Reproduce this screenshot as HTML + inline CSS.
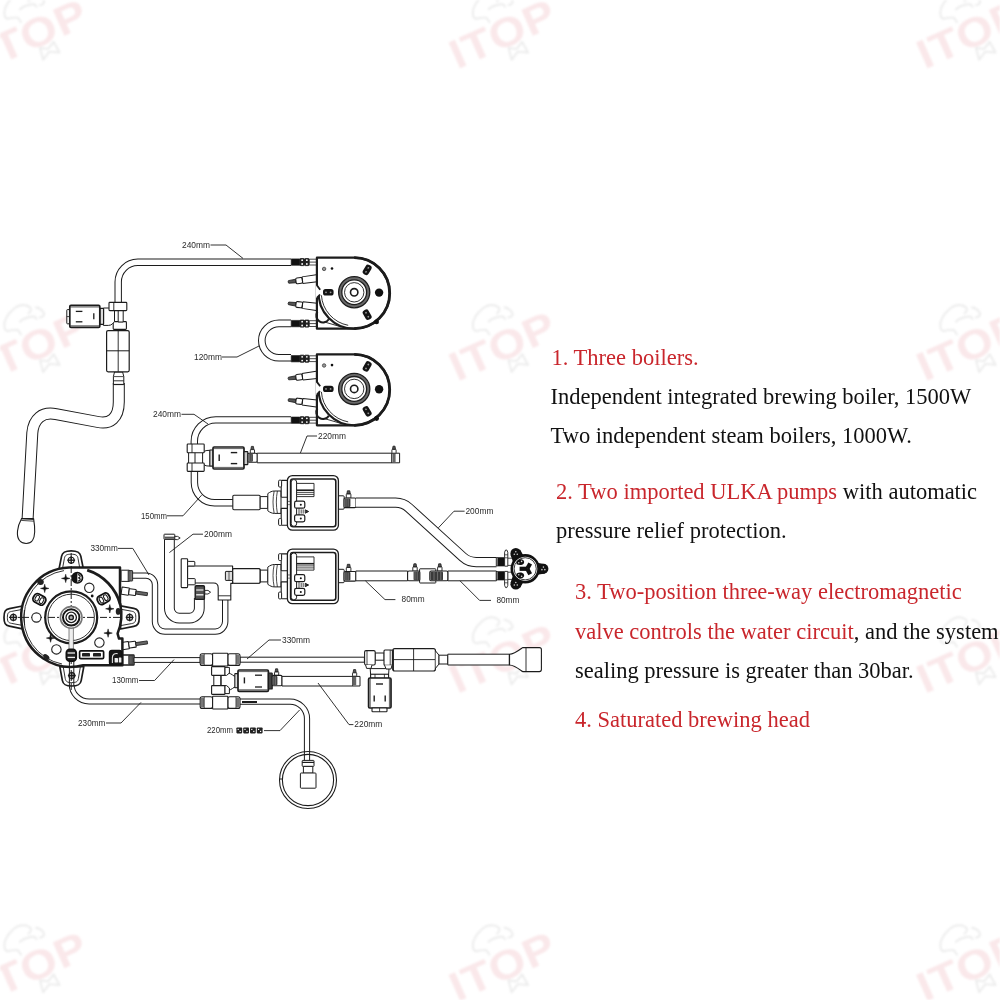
<!DOCTYPE html>
<html><head><meta charset="utf-8"><title>Coffee machine water circuit</title>
<style>
html,body{margin:0;padding:0;background:#fff;}
body{width:1000px;height:1000px;position:relative;overflow:hidden;font-family:"Liberation Serif",serif;}
svg{position:absolute;left:0;top:0;}
#dg{filter:blur(0.35px);}
#wm{filter:blur(0.8px);}
#tx{position:absolute;left:0;top:0;width:1000px;height:1000px;filter:blur(0.3px);}
.lb{font-family:"Liberation Sans",sans-serif;font-size:9px;fill:#2a2a2a;}
.t{position:absolute;white-space:nowrap;font-family:"Liberation Serif",serif;font-size:22.5px;line-height:26px;color:#111;}
.r{color:#c9262c;}
</style></head><body>
<svg id="wm" width="1000" height="1000" viewBox="0 0 1000 1000">
<g transform="translate(39,31) rotate(-24)">
<text transform="scale(1.15,1)" x="-53.5" y="14.7" font-family="Liberation Sans, sans-serif" font-weight="bold" font-size="41" letter-spacing="0.57" fill="#fae8ea">ITOP</text>
<g fill="none" stroke="#ececec" stroke-width="1.9" stroke-linecap="round" stroke-linejoin="round">
<path d="M-12.9,-15.4 L-13.8,-20.7 C-17,-22.4 -20,-23.4 -23.3,-23.8 C-25.6,-25 -25.8,-27.6 -24.5,-29.8 C-23.6,-33 -21.6,-35.2 -19.2,-36.8 C-17,-38.6 -14.6,-39.8 -12,-40.7 C-9.4,-41.8 -6.6,-42.6 -4,-42.6 C-1,-42.4 2,-41.4 4,-39.6 C5.6,-38.2 6.8,-36.4 6.6,-34.6 C6,-33 4.4,-32 2.5,-31.5"/>
<path d="M11.8,-33.9 C14.2,-32.6 15.8,-30.4 16.3,-28.1 C16.8,-26.6 16.8,-25 16.1,-23.8 C14.8,-22.8 13,-22.8 11.4,-23.2"/>
<path d="M-8.500,-27.600 C-5.8,-28.6 -2.8,-28.6 0,-28.200 C2.400,-27.900 4.600,-27.400 6.300,-26.500 C7.400,-25.600 7.800,-24.400 7.600,-23.200"/>
<path d="M-6,16 L-8,28 L1,23 L10,28 L9,16 L1,20 Z"/>
</g></g>
<g transform="translate(507.5,31) rotate(-24)">
<text transform="scale(1.15,1)" x="-53.5" y="14.7" font-family="Liberation Sans, sans-serif" font-weight="bold" font-size="41" letter-spacing="0.57" fill="#fae8ea">ITOP</text>
<g fill="none" stroke="#ececec" stroke-width="1.9" stroke-linecap="round" stroke-linejoin="round">
<path d="M-12.9,-15.4 L-13.8,-20.7 C-17,-22.4 -20,-23.4 -23.3,-23.8 C-25.6,-25 -25.8,-27.6 -24.5,-29.8 C-23.6,-33 -21.6,-35.2 -19.2,-36.8 C-17,-38.6 -14.6,-39.8 -12,-40.7 C-9.4,-41.8 -6.6,-42.6 -4,-42.6 C-1,-42.4 2,-41.4 4,-39.6 C5.6,-38.2 6.8,-36.4 6.6,-34.6 C6,-33 4.4,-32 2.5,-31.5"/>
<path d="M11.8,-33.9 C14.2,-32.6 15.8,-30.4 16.3,-28.1 C16.8,-26.6 16.8,-25 16.1,-23.8 C14.8,-22.8 13,-22.8 11.4,-23.2"/>
<path d="M-8.500,-27.600 C-5.8,-28.6 -2.8,-28.6 0,-28.200 C2.400,-27.900 4.600,-27.400 6.300,-26.500 C7.400,-25.600 7.800,-24.400 7.600,-23.200"/>
<path d="M-6,16 L-8,28 L1,23 L10,28 L9,16 L1,20 Z"/>
</g></g>
<g transform="translate(975,31) rotate(-24)">
<text transform="scale(1.15,1)" x="-53.5" y="14.7" font-family="Liberation Sans, sans-serif" font-weight="bold" font-size="41" letter-spacing="0.57" fill="#fae8ea">ITOP</text>
<g fill="none" stroke="#ececec" stroke-width="1.9" stroke-linecap="round" stroke-linejoin="round">
<path d="M-12.9,-15.4 L-13.8,-20.7 C-17,-22.4 -20,-23.4 -23.3,-23.8 C-25.6,-25 -25.8,-27.6 -24.5,-29.8 C-23.6,-33 -21.6,-35.2 -19.2,-36.8 C-17,-38.6 -14.6,-39.8 -12,-40.7 C-9.4,-41.8 -6.6,-42.6 -4,-42.6 C-1,-42.4 2,-41.4 4,-39.6 C5.6,-38.2 6.8,-36.4 6.6,-34.6 C6,-33 4.4,-32 2.5,-31.5"/>
<path d="M11.8,-33.9 C14.2,-32.6 15.8,-30.4 16.3,-28.1 C16.8,-26.6 16.8,-25 16.1,-23.8 C14.8,-22.8 13,-22.8 11.4,-23.2"/>
<path d="M-8.500,-27.600 C-5.8,-28.6 -2.8,-28.6 0,-28.200 C2.400,-27.900 4.600,-27.400 6.300,-26.500 C7.400,-25.600 7.800,-24.400 7.600,-23.200"/>
<path d="M-6,16 L-8,28 L1,23 L10,28 L9,16 L1,20 Z"/>
</g></g>
<g transform="translate(39,343.3) rotate(-24)">
<text transform="scale(1.15,1)" x="-53.5" y="14.7" font-family="Liberation Sans, sans-serif" font-weight="bold" font-size="41" letter-spacing="0.57" fill="#fae8ea">ITOP</text>
<g fill="none" stroke="#ececec" stroke-width="1.9" stroke-linecap="round" stroke-linejoin="round">
<path d="M-12.9,-15.4 L-13.8,-20.7 C-17,-22.4 -20,-23.4 -23.3,-23.8 C-25.6,-25 -25.8,-27.6 -24.5,-29.8 C-23.6,-33 -21.6,-35.2 -19.2,-36.8 C-17,-38.6 -14.6,-39.8 -12,-40.7 C-9.4,-41.8 -6.6,-42.6 -4,-42.6 C-1,-42.4 2,-41.4 4,-39.6 C5.6,-38.2 6.8,-36.4 6.6,-34.6 C6,-33 4.4,-32 2.5,-31.5"/>
<path d="M11.8,-33.9 C14.2,-32.6 15.8,-30.4 16.3,-28.1 C16.8,-26.6 16.8,-25 16.1,-23.8 C14.8,-22.8 13,-22.8 11.4,-23.2"/>
<path d="M-8.500,-27.600 C-5.8,-28.6 -2.8,-28.6 0,-28.200 C2.400,-27.900 4.600,-27.400 6.300,-26.500 C7.400,-25.600 7.800,-24.400 7.600,-23.200"/>
<path d="M-6,16 L-8,28 L1,23 L10,28 L9,16 L1,20 Z"/>
</g></g>
<g transform="translate(507.5,343.3) rotate(-24)">
<text transform="scale(1.15,1)" x="-53.5" y="14.7" font-family="Liberation Sans, sans-serif" font-weight="bold" font-size="41" letter-spacing="0.57" fill="#fae8ea">ITOP</text>
<g fill="none" stroke="#ececec" stroke-width="1.9" stroke-linecap="round" stroke-linejoin="round">
<path d="M-12.9,-15.4 L-13.8,-20.7 C-17,-22.4 -20,-23.4 -23.3,-23.8 C-25.6,-25 -25.8,-27.6 -24.5,-29.8 C-23.6,-33 -21.6,-35.2 -19.2,-36.8 C-17,-38.6 -14.6,-39.8 -12,-40.7 C-9.4,-41.8 -6.6,-42.6 -4,-42.6 C-1,-42.4 2,-41.4 4,-39.6 C5.6,-38.2 6.8,-36.4 6.6,-34.6 C6,-33 4.4,-32 2.5,-31.5"/>
<path d="M11.8,-33.9 C14.2,-32.6 15.8,-30.4 16.3,-28.1 C16.8,-26.6 16.8,-25 16.1,-23.8 C14.8,-22.8 13,-22.8 11.4,-23.2"/>
<path d="M-8.500,-27.600 C-5.8,-28.6 -2.8,-28.6 0,-28.200 C2.400,-27.900 4.600,-27.400 6.300,-26.500 C7.400,-25.600 7.800,-24.400 7.600,-23.200"/>
<path d="M-6,16 L-8,28 L1,23 L10,28 L9,16 L1,20 Z"/>
</g></g>
<g transform="translate(975,343.3) rotate(-24)">
<text transform="scale(1.15,1)" x="-53.5" y="14.7" font-family="Liberation Sans, sans-serif" font-weight="bold" font-size="41" letter-spacing="0.57" fill="#fae8ea">ITOP</text>
<g fill="none" stroke="#ececec" stroke-width="1.9" stroke-linecap="round" stroke-linejoin="round">
<path d="M-12.9,-15.4 L-13.8,-20.7 C-17,-22.4 -20,-23.4 -23.3,-23.8 C-25.6,-25 -25.8,-27.6 -24.5,-29.8 C-23.6,-33 -21.6,-35.2 -19.2,-36.8 C-17,-38.6 -14.6,-39.8 -12,-40.7 C-9.4,-41.8 -6.6,-42.6 -4,-42.6 C-1,-42.4 2,-41.4 4,-39.6 C5.6,-38.2 6.8,-36.4 6.6,-34.6 C6,-33 4.4,-32 2.5,-31.5"/>
<path d="M11.8,-33.9 C14.2,-32.6 15.8,-30.4 16.3,-28.1 C16.8,-26.6 16.8,-25 16.1,-23.8 C14.8,-22.8 13,-22.8 11.4,-23.2"/>
<path d="M-8.500,-27.600 C-5.8,-28.6 -2.8,-28.6 0,-28.200 C2.400,-27.900 4.600,-27.400 6.300,-26.500 C7.400,-25.600 7.800,-24.400 7.600,-23.200"/>
<path d="M-6,16 L-8,28 L1,23 L10,28 L9,16 L1,20 Z"/>
</g></g>
<g transform="translate(39,655.6) rotate(-24)">
<text transform="scale(1.15,1)" x="-53.5" y="14.7" font-family="Liberation Sans, sans-serif" font-weight="bold" font-size="41" letter-spacing="0.57" fill="#fae8ea">ITOP</text>
<g fill="none" stroke="#ececec" stroke-width="1.9" stroke-linecap="round" stroke-linejoin="round">
<path d="M-12.9,-15.4 L-13.8,-20.7 C-17,-22.4 -20,-23.4 -23.3,-23.8 C-25.6,-25 -25.8,-27.6 -24.5,-29.8 C-23.6,-33 -21.6,-35.2 -19.2,-36.8 C-17,-38.6 -14.6,-39.8 -12,-40.7 C-9.4,-41.8 -6.6,-42.6 -4,-42.6 C-1,-42.4 2,-41.4 4,-39.6 C5.6,-38.2 6.8,-36.4 6.6,-34.6 C6,-33 4.4,-32 2.5,-31.5"/>
<path d="M11.8,-33.9 C14.2,-32.6 15.8,-30.4 16.3,-28.1 C16.8,-26.6 16.8,-25 16.1,-23.8 C14.8,-22.8 13,-22.8 11.4,-23.2"/>
<path d="M-8.500,-27.600 C-5.8,-28.6 -2.8,-28.6 0,-28.200 C2.400,-27.900 4.600,-27.400 6.300,-26.500 C7.400,-25.600 7.800,-24.400 7.600,-23.200"/>
<path d="M-6,16 L-8,28 L1,23 L10,28 L9,16 L1,20 Z"/>
</g></g>
<g transform="translate(507.5,655.6) rotate(-24)">
<text transform="scale(1.15,1)" x="-53.5" y="14.7" font-family="Liberation Sans, sans-serif" font-weight="bold" font-size="41" letter-spacing="0.57" fill="#fae8ea">ITOP</text>
<g fill="none" stroke="#ececec" stroke-width="1.9" stroke-linecap="round" stroke-linejoin="round">
<path d="M-12.9,-15.4 L-13.8,-20.7 C-17,-22.4 -20,-23.4 -23.3,-23.8 C-25.6,-25 -25.8,-27.6 -24.5,-29.8 C-23.6,-33 -21.6,-35.2 -19.2,-36.8 C-17,-38.6 -14.6,-39.8 -12,-40.7 C-9.4,-41.8 -6.6,-42.6 -4,-42.6 C-1,-42.4 2,-41.4 4,-39.6 C5.6,-38.2 6.8,-36.4 6.6,-34.6 C6,-33 4.4,-32 2.5,-31.5"/>
<path d="M11.8,-33.9 C14.2,-32.6 15.8,-30.4 16.3,-28.1 C16.8,-26.6 16.8,-25 16.1,-23.8 C14.8,-22.8 13,-22.8 11.4,-23.2"/>
<path d="M-8.500,-27.600 C-5.8,-28.6 -2.8,-28.6 0,-28.200 C2.400,-27.900 4.600,-27.400 6.300,-26.500 C7.400,-25.600 7.800,-24.400 7.600,-23.200"/>
<path d="M-6,16 L-8,28 L1,23 L10,28 L9,16 L1,20 Z"/>
</g></g>
<g transform="translate(975,655.6) rotate(-24)">
<text transform="scale(1.15,1)" x="-53.5" y="14.7" font-family="Liberation Sans, sans-serif" font-weight="bold" font-size="41" letter-spacing="0.57" fill="#fae8ea">ITOP</text>
<g fill="none" stroke="#ececec" stroke-width="1.9" stroke-linecap="round" stroke-linejoin="round">
<path d="M-12.9,-15.4 L-13.8,-20.7 C-17,-22.4 -20,-23.4 -23.3,-23.8 C-25.6,-25 -25.8,-27.6 -24.5,-29.8 C-23.6,-33 -21.6,-35.2 -19.2,-36.8 C-17,-38.6 -14.6,-39.8 -12,-40.7 C-9.4,-41.8 -6.6,-42.6 -4,-42.6 C-1,-42.4 2,-41.4 4,-39.6 C5.6,-38.2 6.8,-36.4 6.6,-34.6 C6,-33 4.4,-32 2.5,-31.5"/>
<path d="M11.8,-33.9 C14.2,-32.6 15.8,-30.4 16.3,-28.1 C16.8,-26.6 16.8,-25 16.1,-23.8 C14.8,-22.8 13,-22.8 11.4,-23.2"/>
<path d="M-8.500,-27.600 C-5.8,-28.6 -2.8,-28.6 0,-28.200 C2.400,-27.900 4.600,-27.400 6.300,-26.500 C7.400,-25.600 7.800,-24.400 7.600,-23.200"/>
<path d="M-6,16 L-8,28 L1,23 L10,28 L9,16 L1,20 Z"/>
</g></g>
<g transform="translate(39,963.5) rotate(-24)">
<text transform="scale(1.15,1)" x="-53.5" y="14.7" font-family="Liberation Sans, sans-serif" font-weight="bold" font-size="41" letter-spacing="0.57" fill="#fae8ea">ITOP</text>
<g fill="none" stroke="#ececec" stroke-width="1.9" stroke-linecap="round" stroke-linejoin="round">
<path d="M-12.9,-15.4 L-13.8,-20.7 C-17,-22.4 -20,-23.4 -23.3,-23.8 C-25.6,-25 -25.8,-27.6 -24.5,-29.8 C-23.6,-33 -21.6,-35.2 -19.2,-36.8 C-17,-38.6 -14.6,-39.8 -12,-40.7 C-9.4,-41.8 -6.6,-42.6 -4,-42.6 C-1,-42.4 2,-41.4 4,-39.6 C5.6,-38.2 6.8,-36.4 6.6,-34.6 C6,-33 4.4,-32 2.5,-31.5"/>
<path d="M11.8,-33.9 C14.2,-32.6 15.8,-30.4 16.3,-28.1 C16.8,-26.6 16.8,-25 16.1,-23.8 C14.8,-22.8 13,-22.8 11.4,-23.2"/>
<path d="M-8.500,-27.600 C-5.8,-28.6 -2.8,-28.6 0,-28.200 C2.400,-27.900 4.600,-27.400 6.300,-26.500 C7.400,-25.600 7.800,-24.400 7.600,-23.200"/>
<path d="M-6,16 L-8,28 L1,23 L10,28 L9,16 L1,20 Z"/>
</g></g>
<g transform="translate(507.5,963.5) rotate(-24)">
<text transform="scale(1.15,1)" x="-53.5" y="14.7" font-family="Liberation Sans, sans-serif" font-weight="bold" font-size="41" letter-spacing="0.57" fill="#fae8ea">ITOP</text>
<g fill="none" stroke="#ececec" stroke-width="1.9" stroke-linecap="round" stroke-linejoin="round">
<path d="M-12.9,-15.4 L-13.8,-20.7 C-17,-22.4 -20,-23.4 -23.3,-23.8 C-25.6,-25 -25.8,-27.6 -24.5,-29.8 C-23.6,-33 -21.6,-35.2 -19.2,-36.8 C-17,-38.6 -14.6,-39.8 -12,-40.7 C-9.4,-41.8 -6.6,-42.6 -4,-42.6 C-1,-42.4 2,-41.4 4,-39.6 C5.6,-38.2 6.8,-36.4 6.6,-34.6 C6,-33 4.4,-32 2.5,-31.5"/>
<path d="M11.8,-33.9 C14.2,-32.6 15.8,-30.4 16.3,-28.1 C16.8,-26.6 16.8,-25 16.1,-23.8 C14.8,-22.8 13,-22.8 11.4,-23.2"/>
<path d="M-8.500,-27.600 C-5.8,-28.6 -2.8,-28.6 0,-28.200 C2.400,-27.900 4.600,-27.400 6.300,-26.500 C7.400,-25.600 7.800,-24.400 7.600,-23.200"/>
<path d="M-6,16 L-8,28 L1,23 L10,28 L9,16 L1,20 Z"/>
</g></g>
<g transform="translate(975,963.5) rotate(-24)">
<text transform="scale(1.15,1)" x="-53.5" y="14.7" font-family="Liberation Sans, sans-serif" font-weight="bold" font-size="41" letter-spacing="0.57" fill="#fae8ea">ITOP</text>
<g fill="none" stroke="#ececec" stroke-width="1.9" stroke-linecap="round" stroke-linejoin="round">
<path d="M-12.9,-15.4 L-13.8,-20.7 C-17,-22.4 -20,-23.4 -23.3,-23.8 C-25.6,-25 -25.8,-27.6 -24.5,-29.8 C-23.6,-33 -21.6,-35.2 -19.2,-36.8 C-17,-38.6 -14.6,-39.8 -12,-40.7 C-9.4,-41.8 -6.6,-42.6 -4,-42.6 C-1,-42.4 2,-41.4 4,-39.6 C5.6,-38.2 6.8,-36.4 6.6,-34.6 C6,-33 4.4,-32 2.5,-31.5"/>
<path d="M11.8,-33.9 C14.2,-32.6 15.8,-30.4 16.3,-28.1 C16.8,-26.6 16.8,-25 16.1,-23.8 C14.8,-22.8 13,-22.8 11.4,-23.2"/>
<path d="M-8.500,-27.600 C-5.8,-28.6 -2.8,-28.6 0,-28.200 C2.400,-27.900 4.600,-27.400 6.300,-26.500 C7.400,-25.600 7.800,-24.400 7.600,-23.200"/>
<path d="M-6,16 L-8,28 L1,23 L10,28 L9,16 L1,20 Z"/>
</g></g>
</svg>
<svg id="dg" width="1000" height="1000" viewBox="0 0 1000 1000" stroke-linecap="butt" stroke-linejoin="round">
<path d="M291,262.3 H137.8 A19.6,19.6 0 0 0 118.2,281.9 V304" fill="none" stroke="#1c1c1c" stroke-width="7.4" />
<path d="M291,262.3 H137.8 A19.6,19.6 0 0 0 118.2,281.9 V304" fill="none" stroke="#fff" stroke-width="5.4" />
<text x="182.0" y="247.8" textLength="28" lengthAdjust="spacingAndGlyphs" class="lb">240mm</text>
<polyline points="210.5,245.0 226.0,245.0 243.0,258.4" fill="none" stroke="#1c1c1c" stroke-width="0.9"/>
<path d="M291,323.4 H279 A17.2,17.2 0 0 0 279,357.8 H291" fill="none" stroke="#1c1c1c" stroke-width="7.6" />
<path d="M291,323.4 H279 A17.2,17.2 0 0 0 279,357.8 H291" fill="none" stroke="#fff" stroke-width="5.6" />
<text x="194.0" y="359.8" textLength="28" lengthAdjust="spacingAndGlyphs" class="lb">120mm</text>
<polyline points="222.0,357.0 237.0,357.0 259.0,346.0" fill="none" stroke="#1c1c1c" stroke-width="0.9"/>
<path d="M291,419.9 H215.8 A21.5,21.5 0 0 0 194.3,441.4 V446" fill="none" stroke="#1c1c1c" stroke-width="7.4" />
<path d="M291,419.9 H215.8 A21.5,21.5 0 0 0 194.3,441.4 V446" fill="none" stroke="#fff" stroke-width="5.4" />
<text x="153.0" y="417.1" textLength="28" lengthAdjust="spacingAndGlyphs" class="lb">240mm</text>
<polyline points="181.5,414.3 194.0,414.3 208.0,424.0" fill="none" stroke="#1c1c1c" stroke-width="0.9"/>
<path d="M118.8,383 V402 C118.8,418 110,424.5 98,422 L56,414.2 C42,411.4 33.4,419 32.3,433 L27.6,519" fill="none" stroke="#1c1c1c" stroke-width="12" />
<path d="M118.8,383 V402 C118.8,418 110,424.5 98,422 L56,414.2 C42,411.4 33.4,419 32.3,433 L27.6,519" fill="none" stroke="#fff" stroke-width="10.0" />
<path d="M21.6,518.6 C17,527 16,536 19.5,540.5 C23,544.5 29.5,544.5 32.5,540.5 C35.6,536 35,527 33.6,518.6 Z" fill="#fff" stroke="#1c1c1c" stroke-width="1.1" />
<line x1="21.40" y1="518.60" x2="33.80" y2="519.40" stroke="#1c1c1c" stroke-width="1.0" />
<line x1="21.20" y1="520.40" x2="33.80" y2="521.20" stroke="#1c1c1c" stroke-width="0.8" />
<path d="M113.4,384.6 V376.5 L114.5,372 H122.6 L123.8,376.5 V384.6 Z" fill="#fff" stroke="#1c1c1c" stroke-width="1.0" />
<line x1="113.40" y1="380.80" x2="123.80" y2="380.80" stroke="#1c1c1c" stroke-width="0.9" />
<line x1="113.40" y1="384.40" x2="123.80" y2="384.40" stroke="#1c1c1c" stroke-width="0.9" />
<line x1="113.60" y1="376.60" x2="123.60" y2="376.60" stroke="#1c1c1c" stroke-width="0.8" />
<rect x="106.60" y="330.60" width="22.60" height="41.20" rx="1.5" fill="#fff" stroke="#1c1c1c" stroke-width="1.2"/>
<line x1="106.60" y1="350.80" x2="129.20" y2="350.80" stroke="#1c1c1c" stroke-width="1.0" />
<line x1="118.20" y1="330.60" x2="118.20" y2="371.80" stroke="#1c1c1c" stroke-width="0.9" />
<rect x="113.20" y="321.60" width="13.20" height="7.80" rx="0.8" fill="#fff" stroke="#1c1c1c" stroke-width="1.1"/>
<rect x="118.20" y="310.00" width="5.00" height="12.00" rx="0" fill="#fff" stroke="#1c1c1c" stroke-width="1.0"/>
<path d="M103.4,308 H108.5 C112,308 113,310 114.5,311 V321.4 C113,323 112,325.4 108.5,325.4 H103.4 Z" fill="#fff" stroke="#1c1c1c" stroke-width="1.0" />
<rect x="109.00" y="302.40" width="17.80" height="8.20" rx="0.8" fill="#fff" stroke="#1c1c1c" stroke-width="1.1"/>
<line x1="113.80" y1="302.40" x2="113.80" y2="310.60" stroke="#1c1c1c" stroke-width="0.9" />
<rect x="66.80" y="309.60" width="3.40" height="14.20" rx="0.6" fill="#fff" stroke="#1c1c1c" stroke-width="1.0"/>
<line x1="66.80" y1="316.60" x2="70.00" y2="316.60" stroke="#1c1c1c" stroke-width="0.8" />
<rect x="99.80" y="308.40" width="3.80" height="16.00" rx="0.6" fill="#ddd" stroke="#1c1c1c" stroke-width="1.2"/>
<rect x="69.80" y="305.40" width="30.00" height="22.00" rx="1.2" fill="#fff" stroke="#1c1c1c" stroke-width="1.7"/>
<line x1="70.30" y1="307.00" x2="99.30" y2="307.00" stroke="#1c1c1c" stroke-width="0.7" />
<line x1="70.30" y1="325.80" x2="99.30" y2="325.80" stroke="#1c1c1c" stroke-width="0.7" />
<line x1="75.80" y1="311.40" x2="82.40" y2="311.40" stroke="#1c1c1c" stroke-width="1.3" />
<line x1="75.80" y1="321.80" x2="82.40" y2="321.80" stroke="#1c1c1c" stroke-width="1.3" />
<line x1="93.80" y1="313.20" x2="93.80" y2="319.20" stroke="#1c1c1c" stroke-width="1.3" />
<g transform="translate(354.2,292.3)">
</g>
<rect x="291.20" y="258.90" width="8.60" height="6.40" rx="0" fill="#111" stroke="#1c1c1c" stroke-width="0.6"/>
<rect x="299.80" y="258.60" width="4.70" height="7.00" rx="1" fill="#222" stroke="#1c1c1c" stroke-width="0.9"/>
<circle cx="302.15" cy="260.20" r="0.90" fill="#fff" stroke="none" stroke-width="0"/>
<circle cx="302.15" cy="264.00" r="0.90" fill="#fff" stroke="none" stroke-width="0"/>
<rect x="304.50" y="258.60" width="4.70" height="7.00" rx="1" fill="#222" stroke="#1c1c1c" stroke-width="0.9"/>
<circle cx="306.85" cy="260.20" r="0.90" fill="#fff" stroke="none" stroke-width="0"/>
<circle cx="306.85" cy="264.00" r="0.90" fill="#fff" stroke="none" stroke-width="0"/>
<line x1="309.20" y1="259.20" x2="316.60" y2="259.20" stroke="#1c1c1c" stroke-width="0.8" />
<line x1="309.20" y1="262.10" x2="316.60" y2="262.10" stroke="#1c1c1c" stroke-width="0.8" />
<line x1="309.20" y1="265.00" x2="316.60" y2="265.00" stroke="#1c1c1c" stroke-width="0.8" />
<rect x="291.20" y="320.40" width="8.60" height="6.40" rx="0" fill="#111" stroke="#1c1c1c" stroke-width="0.6"/>
<rect x="299.80" y="320.10" width="4.70" height="7.00" rx="1" fill="#222" stroke="#1c1c1c" stroke-width="0.9"/>
<circle cx="302.15" cy="321.70" r="0.90" fill="#fff" stroke="none" stroke-width="0"/>
<circle cx="302.15" cy="325.50" r="0.90" fill="#fff" stroke="none" stroke-width="0"/>
<rect x="304.50" y="320.10" width="4.70" height="7.00" rx="1" fill="#222" stroke="#1c1c1c" stroke-width="0.9"/>
<circle cx="306.85" cy="321.70" r="0.90" fill="#fff" stroke="none" stroke-width="0"/>
<circle cx="306.85" cy="325.50" r="0.90" fill="#fff" stroke="none" stroke-width="0"/>
<line x1="309.20" y1="320.70" x2="316.60" y2="320.70" stroke="#1c1c1c" stroke-width="0.8" />
<line x1="309.20" y1="323.60" x2="316.60" y2="323.60" stroke="#1c1c1c" stroke-width="0.8" />
<line x1="309.20" y1="326.50" x2="316.60" y2="326.50" stroke="#1c1c1c" stroke-width="0.8" />
<g transform="translate(288.00,282.00) rotate(-7.35)">
<path d="M0.6,-1.3 L8,-1.8 L8,1.8 L0.6,1.3 Q-0.4,0 0.6,-1.3 Z" fill="#555" stroke="#1c1c1c" stroke-width="0.8"/>
<rect x="8" y="-2.9" width="6.5" height="5.8" rx="1.3" fill="#fff" stroke="#1c1c1c" stroke-width="1.1"/>
<path d="M14.5,-3.3 L28.94,-3.6 M14.5,3.3 L28.94,3.6 M14.5,-3.3 V3.3" fill="none" stroke="#1c1c1c" stroke-width="1"/>
</g>
<g transform="translate(288.00,303.30) rotate(7.15)">
<path d="M0.6,-1.3 L8,-1.8 L8,1.8 L0.6,1.3 Q-0.4,0 0.6,-1.3 Z" fill="#555" stroke="#1c1c1c" stroke-width="0.8"/>
<rect x="8" y="-2.9" width="6.5" height="5.8" rx="1.3" fill="#fff" stroke="#1c1c1c" stroke-width="1.1"/>
<path d="M14.5,-3.3 L28.92,-3.6 M14.5,3.3 L28.92,3.6 M14.5,-3.3 V3.3" fill="none" stroke="#1c1c1c" stroke-width="1"/>
</g>
<g transform="translate(354.2,292.3)">
<path d="M-37.3,-34.6 H0 A35.5,35.5 0 0 1 0,36.4 H-37.3 Z" fill="#fff" stroke="#1c1c1c" stroke-width="2.2" />
<path d="M-35.4,-2 A35.5,35.5 0 0 0 2,36.3" fill="none" stroke="#1c1c1c" stroke-width="2.2" />
<path d="M-32.8,3 A33,33 0 0 0 -6,33" fill="none" stroke="#1c1c1c" stroke-width="0.9" />
<path d="M0,-34.6 A35.5,35.5 0 0 1 0,36.4" fill="none" stroke="#1c1c1c" stroke-width="2.8" />
<path d="M-38.3,-7 L-33.6,-2.2 L-33.6,2 L-38.3,6 Z" fill="#fff" stroke="none" stroke-width="0" />
<path d="M-37.3,-7 L-34,-2.6 M-34.2,2.2 L-37.3,5.6" fill="none" stroke="#1c1c1c" stroke-width="1.8" />
<path d="M-36.8,19.6 A6,6 0 1 0 -25.4,27" fill="none" stroke="#1c1c1c" stroke-width="2.0" />
<path d="M-30,29.6 L-13,34.6" fill="none" stroke="#1c1c1c" stroke-width="0.9" />
<circle cx="0.00" cy="0.00" r="14.00" fill="#fff" stroke="#6a6a6a" stroke-width="3.0"/>
<circle cx="0.00" cy="0.00" r="15.60" fill="none" stroke="#1c1c1c" stroke-width="1.3"/>
<circle cx="0.00" cy="0.00" r="12.40" fill="none" stroke="#1c1c1c" stroke-width="1.3"/>
<circle cx="0.00" cy="0.00" r="9.70" fill="none" stroke="#1c1c1c" stroke-width="0.9"/>
<circle cx="0.00" cy="0.00" r="3.70" fill="#fff" stroke="#1c1c1c" stroke-width="1.6"/>
<circle cx="24.90" cy="0.30" r="4.20" fill="#111" stroke="none" stroke-width="0"/>
<circle cx="22.40" cy="29.60" r="2.40" fill="#111" stroke="none" stroke-width="0"/>
<g transform="rotate(180) translate(25.9,0)">
<rect x="-5.30" y="-3.20" width="10.60" height="6.40" rx="2.6" fill="#141414" stroke="none" stroke-width="0"/>
<circle cx="-2.30" cy="0.00" r="0.90" fill="#999" stroke="none" stroke-width="0"/>
<circle cx="2.30" cy="0.00" r="0.90" fill="#999" stroke="none" stroke-width="0"/>
</g>
<g transform="rotate(-60) translate(25.9,0)">
<rect x="-5.30" y="-3.20" width="10.60" height="6.40" rx="2.6" fill="#141414" stroke="none" stroke-width="0"/>
<circle cx="-2.30" cy="0.00" r="0.90" fill="#999" stroke="none" stroke-width="0"/>
<circle cx="2.30" cy="0.00" r="0.90" fill="#999" stroke="none" stroke-width="0"/>
</g>
<g transform="rotate(60) translate(25.9,0)">
<rect x="-5.30" y="-3.20" width="10.60" height="6.40" rx="2.6" fill="#141414" stroke="none" stroke-width="0"/>
<circle cx="-2.30" cy="0.00" r="0.90" fill="#999" stroke="none" stroke-width="0"/>
<circle cx="2.30" cy="0.00" r="0.90" fill="#999" stroke="none" stroke-width="0"/>
</g>
<circle cx="-30.10" cy="-23.40" r="1.70" fill="#999" stroke="#555" stroke-width="1.0"/>
<circle cx="-22.20" cy="-23.80" r="1.30" fill="#111" stroke="none" stroke-width="0"/>
</g>
<g transform="translate(354.2,388.9)">
</g>
<rect x="291.20" y="355.50" width="8.60" height="6.40" rx="0" fill="#111" stroke="#1c1c1c" stroke-width="0.6"/>
<rect x="299.80" y="355.20" width="4.70" height="7.00" rx="1" fill="#222" stroke="#1c1c1c" stroke-width="0.9"/>
<circle cx="302.15" cy="356.80" r="0.90" fill="#fff" stroke="none" stroke-width="0"/>
<circle cx="302.15" cy="360.60" r="0.90" fill="#fff" stroke="none" stroke-width="0"/>
<rect x="304.50" y="355.20" width="4.70" height="7.00" rx="1" fill="#222" stroke="#1c1c1c" stroke-width="0.9"/>
<circle cx="306.85" cy="356.80" r="0.90" fill="#fff" stroke="none" stroke-width="0"/>
<circle cx="306.85" cy="360.60" r="0.90" fill="#fff" stroke="none" stroke-width="0"/>
<line x1="309.20" y1="355.80" x2="316.60" y2="355.80" stroke="#1c1c1c" stroke-width="0.8" />
<line x1="309.20" y1="358.70" x2="316.60" y2="358.70" stroke="#1c1c1c" stroke-width="0.8" />
<line x1="309.20" y1="361.60" x2="316.60" y2="361.60" stroke="#1c1c1c" stroke-width="0.8" />
<rect x="291.20" y="417.00" width="8.60" height="6.40" rx="0" fill="#111" stroke="#1c1c1c" stroke-width="0.6"/>
<rect x="299.80" y="416.70" width="4.70" height="7.00" rx="1" fill="#222" stroke="#1c1c1c" stroke-width="0.9"/>
<circle cx="302.15" cy="418.30" r="0.90" fill="#fff" stroke="none" stroke-width="0"/>
<circle cx="302.15" cy="422.10" r="0.90" fill="#fff" stroke="none" stroke-width="0"/>
<rect x="304.50" y="416.70" width="4.70" height="7.00" rx="1" fill="#222" stroke="#1c1c1c" stroke-width="0.9"/>
<circle cx="306.85" cy="418.30" r="0.90" fill="#fff" stroke="none" stroke-width="0"/>
<circle cx="306.85" cy="422.10" r="0.90" fill="#fff" stroke="none" stroke-width="0"/>
<line x1="309.20" y1="417.30" x2="316.60" y2="417.30" stroke="#1c1c1c" stroke-width="0.8" />
<line x1="309.20" y1="420.20" x2="316.60" y2="420.20" stroke="#1c1c1c" stroke-width="0.8" />
<line x1="309.20" y1="423.10" x2="316.60" y2="423.10" stroke="#1c1c1c" stroke-width="0.8" />
<g transform="translate(288.00,378.60) rotate(-7.35)">
<path d="M0.6,-1.3 L8,-1.8 L8,1.8 L0.6,1.3 Q-0.4,0 0.6,-1.3 Z" fill="#555" stroke="#1c1c1c" stroke-width="0.8"/>
<rect x="8" y="-2.9" width="6.5" height="5.8" rx="1.3" fill="#fff" stroke="#1c1c1c" stroke-width="1.1"/>
<path d="M14.5,-3.3 L28.94,-3.6 M14.5,3.3 L28.94,3.6 M14.5,-3.3 V3.3" fill="none" stroke="#1c1c1c" stroke-width="1"/>
</g>
<g transform="translate(288.00,399.90) rotate(7.15)">
<path d="M0.6,-1.3 L8,-1.8 L8,1.8 L0.6,1.3 Q-0.4,0 0.6,-1.3 Z" fill="#555" stroke="#1c1c1c" stroke-width="0.8"/>
<rect x="8" y="-2.9" width="6.5" height="5.8" rx="1.3" fill="#fff" stroke="#1c1c1c" stroke-width="1.1"/>
<path d="M14.5,-3.3 L28.92,-3.6 M14.5,3.3 L28.92,3.6 M14.5,-3.3 V3.3" fill="none" stroke="#1c1c1c" stroke-width="1"/>
</g>
<g transform="translate(354.2,388.9)">
<path d="M-37.3,-34.6 H0 A35.5,35.5 0 0 1 0,36.4 H-37.3 Z" fill="#fff" stroke="#1c1c1c" stroke-width="2.2" />
<path d="M-35.4,-2 A35.5,35.5 0 0 0 2,36.3" fill="none" stroke="#1c1c1c" stroke-width="2.2" />
<path d="M-32.8,3 A33,33 0 0 0 -6,33" fill="none" stroke="#1c1c1c" stroke-width="0.9" />
<path d="M0,-34.6 A35.5,35.5 0 0 1 0,36.4" fill="none" stroke="#1c1c1c" stroke-width="2.8" />
<path d="M-38.3,-7 L-33.6,-2.2 L-33.6,2 L-38.3,6 Z" fill="#fff" stroke="none" stroke-width="0" />
<path d="M-37.3,-7 L-34,-2.6 M-34.2,2.2 L-37.3,5.6" fill="none" stroke="#1c1c1c" stroke-width="1.8" />
<path d="M-36.8,19.6 A6,6 0 1 0 -25.4,27" fill="none" stroke="#1c1c1c" stroke-width="2.0" />
<path d="M-30,29.6 L-13,34.6" fill="none" stroke="#1c1c1c" stroke-width="0.9" />
<circle cx="0.00" cy="0.00" r="14.00" fill="#fff" stroke="#6a6a6a" stroke-width="3.0"/>
<circle cx="0.00" cy="0.00" r="15.60" fill="none" stroke="#1c1c1c" stroke-width="1.3"/>
<circle cx="0.00" cy="0.00" r="12.40" fill="none" stroke="#1c1c1c" stroke-width="1.3"/>
<circle cx="0.00" cy="0.00" r="9.70" fill="none" stroke="#1c1c1c" stroke-width="0.9"/>
<circle cx="0.00" cy="0.00" r="3.70" fill="#fff" stroke="#1c1c1c" stroke-width="1.6"/>
<circle cx="24.90" cy="0.30" r="4.20" fill="#111" stroke="none" stroke-width="0"/>
<circle cx="22.40" cy="29.60" r="2.40" fill="#111" stroke="none" stroke-width="0"/>
<g transform="rotate(180) translate(25.9,0)">
<rect x="-5.30" y="-3.20" width="10.60" height="6.40" rx="2.6" fill="#141414" stroke="none" stroke-width="0"/>
<circle cx="-2.30" cy="0.00" r="0.90" fill="#999" stroke="none" stroke-width="0"/>
<circle cx="2.30" cy="0.00" r="0.90" fill="#999" stroke="none" stroke-width="0"/>
</g>
<g transform="rotate(-60) translate(25.9,0)">
<rect x="-5.30" y="-3.20" width="10.60" height="6.40" rx="2.6" fill="#141414" stroke="none" stroke-width="0"/>
<circle cx="-2.30" cy="0.00" r="0.90" fill="#999" stroke="none" stroke-width="0"/>
<circle cx="2.30" cy="0.00" r="0.90" fill="#999" stroke="none" stroke-width="0"/>
</g>
<g transform="rotate(60) translate(25.9,0)">
<rect x="-5.30" y="-3.20" width="10.60" height="6.40" rx="2.6" fill="#141414" stroke="none" stroke-width="0"/>
<circle cx="-2.30" cy="0.00" r="0.90" fill="#999" stroke="none" stroke-width="0"/>
<circle cx="2.30" cy="0.00" r="0.90" fill="#999" stroke="none" stroke-width="0"/>
</g>
<circle cx="-30.10" cy="-23.40" r="1.70" fill="#999" stroke="#555" stroke-width="1.0"/>
<circle cx="-22.20" cy="-23.80" r="1.30" fill="#111" stroke="none" stroke-width="0"/>
</g>
<path d="M194.4,470 V482.6 A20.2,20.2 0 0 0 214.6,502.8 H234" fill="none" stroke="#1c1c1c" stroke-width="7.4" />
<path d="M194.4,470 V482.6 A20.2,20.2 0 0 0 214.6,502.8 H234" fill="none" stroke="#fff" stroke-width="5.4" />
<text x="141.0" y="518.6" textLength="26" lengthAdjust="spacingAndGlyphs" class="lb">150mm</text>
<polyline points="167.0,515.8 183.0,515.8 201.6,495.2" fill="none" stroke="#1c1c1c" stroke-width="0.9"/>
<rect x="188.60" y="452.00" width="6.40" height="12.00" rx="0" fill="#fff" stroke="#1c1c1c" stroke-width="1.0"/>
<path d="M213,450.4 H208 C205,450.4 204,451.6 202.6,453 V463 C204,464.6 205,466 208,466 H213 Z" fill="#fff" stroke="#1c1c1c" stroke-width="1.0" />
<rect x="187.20" y="444.00" width="17.00" height="8.80" rx="0.8" fill="#fff" stroke="#1c1c1c" stroke-width="1.1"/>
<line x1="192.00" y1="444.00" x2="192.00" y2="452.80" stroke="#1c1c1c" stroke-width="0.9" />
<rect x="187.20" y="463.00" width="17.00" height="8.40" rx="0.8" fill="#fff" stroke="#1c1c1c" stroke-width="1.1"/>
<line x1="192.00" y1="463.00" x2="192.00" y2="471.40" stroke="#1c1c1c" stroke-width="0.9" />
<rect x="209.80" y="450.00" width="3.60" height="16.00" rx="0.6" fill="#ddd" stroke="#1c1c1c" stroke-width="1.2"/>
<rect x="213.00" y="447.00" width="31.00" height="22.00" rx="1.2" fill="#fff" stroke="#1c1c1c" stroke-width="1.7"/>
<line x1="213.50" y1="448.60" x2="243.50" y2="448.60" stroke="#1c1c1c" stroke-width="0.7" />
<line x1="213.50" y1="467.40" x2="243.50" y2="467.40" stroke="#1c1c1c" stroke-width="0.7" />
<line x1="219.20" y1="454.60" x2="219.20" y2="461.00" stroke="#1c1c1c" stroke-width="1.4" />
<line x1="230.80" y1="452.60" x2="237.20" y2="452.60" stroke="#1c1c1c" stroke-width="1.4" />
<line x1="230.80" y1="463.60" x2="237.20" y2="463.60" stroke="#1c1c1c" stroke-width="1.4" />
<rect x="244.00" y="451.60" width="3.80" height="13.00" rx="0.6" fill="#ccc" stroke="#1c1c1c" stroke-width="1.2"/>
<path d="M250.90,449.60 L251.40,446.40 H253.40 L253.90,449.60 Z" fill="#555" stroke="#1c1c1c" stroke-width="0.8" />
<rect x="250.30" y="449.60" width="4.20" height="3.80" rx="0.4" fill="#fff" stroke="#1c1c1c" stroke-width="0.9"/>
<rect x="247.80" y="453.20" width="9.60" height="9.00" rx="1.4" fill="#fff" stroke="#1c1c1c" stroke-width="1.1"/>
<rect x="248.40" y="453.70" width="4.48" height="8.00" rx="1.0" fill="#3a3a3a" stroke="none" stroke-width="0"/>
<line x1="249.41" y1="454.20" x2="249.41" y2="461.20" stroke="#999" stroke-width="0.6" />
<line x1="251.13" y1="454.20" x2="251.13" y2="461.20" stroke="#999" stroke-width="0.6" />
<rect x="257.20" y="453.20" width="142.40" height="9.60" rx="0" fill="#fff" stroke="#1c1c1c" stroke-width="1.0"/>
<rect x="392.40" y="453.80" width="3.20" height="8.40" rx="0" fill="#666" stroke="none" stroke-width="0"/>
<path d="M392.50,449.40 L393.00,446.20 H395.00 L395.50,449.40 Z" fill="#555" stroke="#1c1c1c" stroke-width="0.8" />
<rect x="391.90" y="449.40" width="4.20" height="3.80" rx="0.4" fill="#fff" stroke="#1c1c1c" stroke-width="0.9"/>
<line x1="391.60" y1="453.20" x2="391.60" y2="462.80" stroke="#1c1c1c" stroke-width="0.9" />
<text x="318.0" y="438.8" textLength="28" lengthAdjust="spacingAndGlyphs" class="lb">220mm</text>
<polyline points="317.0,436.0 307.0,436.0 300.4,453.0" fill="none" stroke="#1c1c1c" stroke-width="0.9"/>
<rect x="232.80" y="495.20" width="27.40" height="14.60" rx="1.2" fill="#fff" stroke="#1c1c1c" stroke-width="1.1"/>
<rect x="260.20" y="496.60" width="7.60" height="11.80" rx="0" fill="#fff" stroke="#1c1c1c" stroke-width="1.0"/>
<path d="M267.8,493.6 C270,492 272,491 274.4,491 H281 V513.4 H274.4 C272,513.4 270,512.4 267.8,510.8 Z" fill="#fff" stroke="#1c1c1c" stroke-width="1.0" />
<path d="M274.2,491 C272.6,498 272.6,506 274.2,513.4" fill="none" stroke="#1c1c1c" stroke-width="0.8" />
<path d="M277.4,491 C276,498 276,506 277.4,513.4" fill="none" stroke="#1c1c1c" stroke-width="0.8" />
<rect x="281.20" y="480.40" width="6.60" height="16.80" rx="0.6" fill="#fff" stroke="#1c1c1c" stroke-width="1.1"/>
<rect x="278.60" y="480.20" width="3.00" height="6.80" rx="1" fill="#fff" stroke="#1c1c1c" stroke-width="1.0"/>
<rect x="281.20" y="508.40" width="6.60" height="16.80" rx="0.6" fill="#fff" stroke="#1c1c1c" stroke-width="1.1"/>
<rect x="278.60" y="518.60" width="3.00" height="6.80" rx="1" fill="#fff" stroke="#1c1c1c" stroke-width="1.0"/>
<rect x="338.00" y="495.80" width="6.20" height="13.40" rx="1" fill="#fff" stroke="#1c1c1c" stroke-width="1.0"/>
<path d="M346.90,494.00 L347.40,490.80 H349.80 L350.30,494.00 Z" fill="#555" stroke="#1c1c1c" stroke-width="0.8" />
<rect x="346.30" y="494.00" width="4.60" height="4.20" rx="0.4" fill="#fff" stroke="#1c1c1c" stroke-width="0.9"/>
<rect x="344.00" y="498.00" width="12.00" height="9.60" rx="1.4" fill="#fff" stroke="#1c1c1c" stroke-width="1.1"/>
<rect x="344.60" y="498.50" width="5.82" height="8.60" rx="1.0" fill="#3a3a3a" stroke="none" stroke-width="0"/>
<line x1="346.02" y1="499.00" x2="346.02" y2="506.60" stroke="#999" stroke-width="0.6" />
<line x1="348.17" y1="499.00" x2="348.17" y2="506.60" stroke="#999" stroke-width="0.6" />
<rect x="287.40" y="475.60" width="51.00" height="54.60" rx="5" fill="#fff" stroke="#1c1c1c" stroke-width="1.3"/>
<rect x="290.60" y="479.00" width="45.20" height="47.80" rx="2.5" fill="#fff" stroke="#1c1c1c" stroke-width="1.6"/>
<rect x="291.20" y="479.60" width="5.40" height="46.60" rx="2.4" fill="#fff" stroke="#1c1c1c" stroke-width="1.0"/>
<rect x="296.60" y="483.40" width="17.40" height="13.20" rx="0" fill="#fff" stroke="#1c1c1c" stroke-width="0.9"/>
<line x1="296.60" y1="490.20" x2="314.00" y2="490.20" stroke="#1c1c1c" stroke-width="1.6" />
<line x1="296.60" y1="492.40" x2="314.00" y2="492.40" stroke="#1c1c1c" stroke-width="0.8" />
<line x1="296.60" y1="494.40" x2="314.00" y2="494.40" stroke="#1c1c1c" stroke-width="0.8" />
<rect x="294.60" y="501.20" width="10.20" height="7.00" rx="1.8" fill="#fff" stroke="#1c1c1c" stroke-width="1.2"/>
<circle cx="300.80" cy="504.80" r="1.00" fill="#111" stroke="none" stroke-width="0"/>
<rect x="294.60" y="514.80" width="10.20" height="7.00" rx="1.8" fill="#fff" stroke="#1c1c1c" stroke-width="1.2"/>
<circle cx="300.80" cy="518.40" r="1.00" fill="#111" stroke="none" stroke-width="0"/>
<line x1="299.00" y1="508.20" x2="299.00" y2="514.80" stroke="#1c1c1c" stroke-width="0.8" />
<line x1="301.20" y1="509.40" x2="301.20" y2="513.60" stroke="#1c1c1c" stroke-width="0.8" />
<line x1="303.20" y1="509.40" x2="303.20" y2="513.60" stroke="#1c1c1c" stroke-width="0.8" />
<line x1="305.20" y1="509.80" x2="305.20" y2="513.20" stroke="#1c1c1c" stroke-width="0.8" />
<path d="M305.2,509.8 L308.6,511.5 L305.2,513.2" fill="#333" stroke="#1c1c1c" stroke-width="1.0" />
<circle cx="289.00" cy="501.40" r="0.60" fill="#111" stroke="none" stroke-width="0"/>
<circle cx="289.00" cy="504.60" r="0.60" fill="#111" stroke="none" stroke-width="0"/>
<path d="M355.8,502.7 H395.6 A20,20 0 0 1 409,507.9 L462.8,556.9 A20,20 0 0 0 476.2,562.1 H496.5" fill="none" stroke="#1c1c1c" stroke-width="10.2" />
<path d="M355.8,502.7 H395.6 A20,20 0 0 1 409,507.9 L462.8,556.9 A20,20 0 0 0 476.2,562.1 H496.5" fill="none" stroke="#fff" stroke-width="8.2" />
<text x="465.4" y="514.4" textLength="28" lengthAdjust="spacingAndGlyphs" class="lb">200mm</text>
<polyline points="464.6,511.2 454.0,511.2 438.4,527.8" fill="none" stroke="#1c1c1c" stroke-width="0.9"/>
<rect x="232.80" y="568.70" width="27.40" height="14.60" rx="1.2" fill="#fff" stroke="#1c1c1c" stroke-width="1.1"/>
<rect x="260.20" y="570.10" width="7.60" height="11.80" rx="0" fill="#fff" stroke="#1c1c1c" stroke-width="1.0"/>
<path d="M267.8,567.1 C270,565.5 272,564.5 274.4,564.5 H281 V586.9 H274.4 C272,586.9 270,585.9 267.8,584.3 Z" fill="#fff" stroke="#1c1c1c" stroke-width="1.0" />
<path d="M274.2,564.5 C272.6,571.5 272.6,579.5 274.2,586.9" fill="none" stroke="#1c1c1c" stroke-width="0.8" />
<path d="M277.4,564.5 C276,571.5 276,579.5 277.4,586.9" fill="none" stroke="#1c1c1c" stroke-width="0.8" />
<rect x="281.20" y="553.90" width="6.60" height="16.80" rx="0.6" fill="#fff" stroke="#1c1c1c" stroke-width="1.1"/>
<rect x="278.60" y="553.70" width="3.00" height="6.80" rx="1" fill="#fff" stroke="#1c1c1c" stroke-width="1.0"/>
<rect x="281.20" y="581.90" width="6.60" height="16.80" rx="0.6" fill="#fff" stroke="#1c1c1c" stroke-width="1.1"/>
<rect x="278.60" y="592.10" width="3.00" height="6.80" rx="1" fill="#fff" stroke="#1c1c1c" stroke-width="1.0"/>
<rect x="338.00" y="569.30" width="6.20" height="13.40" rx="1" fill="#fff" stroke="#1c1c1c" stroke-width="1.0"/>
<path d="M346.90,567.50 L347.40,564.30 H349.80 L350.30,567.50 Z" fill="#555" stroke="#1c1c1c" stroke-width="0.8" />
<rect x="346.30" y="567.50" width="4.60" height="4.20" rx="0.4" fill="#fff" stroke="#1c1c1c" stroke-width="0.9"/>
<rect x="344.00" y="571.50" width="12.00" height="9.60" rx="1.4" fill="#fff" stroke="#1c1c1c" stroke-width="1.1"/>
<rect x="344.60" y="572.00" width="5.82" height="8.60" rx="1.0" fill="#3a3a3a" stroke="none" stroke-width="0"/>
<line x1="346.02" y1="572.50" x2="346.02" y2="580.10" stroke="#999" stroke-width="0.6" />
<line x1="348.17" y1="572.50" x2="348.17" y2="580.10" stroke="#999" stroke-width="0.6" />
<rect x="287.40" y="549.10" width="51.00" height="54.60" rx="5" fill="#fff" stroke="#1c1c1c" stroke-width="1.3"/>
<rect x="290.60" y="552.50" width="45.20" height="47.80" rx="2.5" fill="#fff" stroke="#1c1c1c" stroke-width="1.6"/>
<rect x="291.20" y="553.10" width="5.40" height="46.60" rx="2.4" fill="#fff" stroke="#1c1c1c" stroke-width="1.0"/>
<rect x="296.60" y="556.90" width="17.40" height="13.20" rx="0" fill="#fff" stroke="#1c1c1c" stroke-width="0.9"/>
<line x1="296.60" y1="563.70" x2="314.00" y2="563.70" stroke="#1c1c1c" stroke-width="1.6" />
<line x1="296.60" y1="565.90" x2="314.00" y2="565.90" stroke="#1c1c1c" stroke-width="0.8" />
<line x1="296.60" y1="567.90" x2="314.00" y2="567.90" stroke="#1c1c1c" stroke-width="0.8" />
<rect x="294.60" y="574.70" width="10.20" height="7.00" rx="1.8" fill="#fff" stroke="#1c1c1c" stroke-width="1.2"/>
<circle cx="300.80" cy="578.30" r="1.00" fill="#111" stroke="none" stroke-width="0"/>
<rect x="294.60" y="588.30" width="10.20" height="7.00" rx="1.8" fill="#fff" stroke="#1c1c1c" stroke-width="1.2"/>
<circle cx="300.80" cy="591.90" r="1.00" fill="#111" stroke="none" stroke-width="0"/>
<line x1="299.00" y1="581.70" x2="299.00" y2="588.30" stroke="#1c1c1c" stroke-width="0.8" />
<line x1="301.20" y1="582.90" x2="301.20" y2="587.10" stroke="#1c1c1c" stroke-width="0.8" />
<line x1="303.20" y1="582.90" x2="303.20" y2="587.10" stroke="#1c1c1c" stroke-width="0.8" />
<line x1="305.20" y1="583.30" x2="305.20" y2="586.70" stroke="#1c1c1c" stroke-width="0.8" />
<path d="M305.2,583.3 L308.6,585.0 L305.2,586.7" fill="#333" stroke="#1c1c1c" stroke-width="1.0" />
<circle cx="289.00" cy="574.90" r="0.60" fill="#111" stroke="none" stroke-width="0"/>
<circle cx="289.00" cy="578.10" r="0.60" fill="#111" stroke="none" stroke-width="0"/>
<rect x="355.80" y="571.00" width="51.80" height="9.80" rx="0" fill="#fff" stroke="#1c1c1c" stroke-width="1.0"/>
<rect x="447.80" y="571.00" width="48.60" height="9.80" rx="0" fill="#fff" stroke="#1c1c1c" stroke-width="1.0"/>
<rect x="419.60" y="568.80" width="16.20" height="14.20" rx="0.5" fill="#fff" stroke="#1c1c1c" stroke-width="1.0"/>
<path d="M413.40,567.00 L413.90,563.80 H416.10 L416.60,567.00 Z" fill="#555" stroke="#1c1c1c" stroke-width="0.8" />
<rect x="412.80" y="567.00" width="4.40" height="4.20" rx="0.4" fill="#fff" stroke="#1c1c1c" stroke-width="0.9"/>
<rect x="407.60" y="571.00" width="12.20" height="9.80" rx="1.4" fill="#fff" stroke="#1c1c1c" stroke-width="1.1"/>
<rect x="413.57" y="571.50" width="5.93" height="8.80" rx="1.0" fill="#3a3a3a" stroke="none" stroke-width="0"/>
<line x1="415.02" y1="572.00" x2="415.02" y2="579.80" stroke="#999" stroke-width="0.6" />
<line x1="417.20" y1="572.00" x2="417.20" y2="579.80" stroke="#999" stroke-width="0.6" />
<path d="M438.20,567.00 L438.70,563.80 H440.90 L441.40,567.00 Z" fill="#555" stroke="#1c1c1c" stroke-width="0.8" />
<rect x="437.60" y="567.00" width="4.40" height="4.20" rx="0.4" fill="#fff" stroke="#1c1c1c" stroke-width="0.9"/>
<rect x="429.80" y="571.00" width="18.00" height="9.80" rx="1.4" fill="#fff" stroke="#1c1c1c" stroke-width="1.1"/>
<rect x="430.40" y="571.50" width="12.60" height="8.80" rx="1.0" fill="#3a3a3a" stroke="none" stroke-width="0"/>
<line x1="434.00" y1="572.00" x2="434.00" y2="580.00" stroke="#999" stroke-width="0.6" />
<line x1="437.60" y1="572.00" x2="437.60" y2="580.00" stroke="#999" stroke-width="0.6" />
<line x1="440.80" y1="572.00" x2="440.80" y2="580.00" stroke="#999" stroke-width="0.6" />
<text x="401.6" y="602.4" textLength="23" lengthAdjust="spacingAndGlyphs" class="lb">80mm</text>
<polyline points="365.4,580.8 385.0,599.6 395.4,599.6" fill="none" stroke="#1c1c1c" stroke-width="0.9"/>
<text x="496.4" y="603.4" textLength="23" lengthAdjust="spacingAndGlyphs" class="lb">80mm</text>
<polyline points="460.0,580.8 479.6,600.4 491.0,600.4" fill="none" stroke="#1c1c1c" stroke-width="0.9"/>
<rect x="496.20" y="557.50" width="8.20" height="8.60" rx="0.5" fill="#111" stroke="#1c1c1c" stroke-width="0.6"/>
<line x1="497.20" y1="558.00" x2="497.20" y2="565.60" stroke="#ddd" stroke-width="0.7" />
<line x1="508.00" y1="558.20" x2="513.20" y2="558.20" stroke="#1c1c1c" stroke-width="0.8" />
<line x1="508.00" y1="565.40" x2="513.20" y2="565.40" stroke="#1c1c1c" stroke-width="0.8" />
<rect x="496.20" y="571.50" width="8.20" height="8.60" rx="0.5" fill="#111" stroke="#1c1c1c" stroke-width="0.6"/>
<line x1="497.20" y1="572.00" x2="497.20" y2="579.60" stroke="#ddd" stroke-width="0.7" />
<line x1="508.00" y1="572.20" x2="513.20" y2="572.20" stroke="#1c1c1c" stroke-width="0.8" />
<line x1="508.00" y1="579.40" x2="513.20" y2="579.40" stroke="#1c1c1c" stroke-width="0.8" />
<path d="M504.6,566.1999999999999 V552.1999999999999 L505.6,550.0 H506.8 L507.8,552.1999999999999 V566.1999999999999 Z" fill="#fff" stroke="#1c1c1c" stroke-width="0.9" />
<path d="M504.6,571.4 V585.4 L505.6,587.5999999999999 H506.8 L507.8,585.4 V571.4 Z" fill="#fff" stroke="#1c1c1c" stroke-width="0.9" />
<line x1="504.60" y1="554.80" x2="507.80" y2="554.80" stroke="#1c1c1c" stroke-width="0.7" />
<line x1="504.60" y1="582.80" x2="507.80" y2="582.80" stroke="#1c1c1c" stroke-width="0.7" />
<line x1="504.60" y1="557.80" x2="507.80" y2="557.80" stroke="#1c1c1c" stroke-width="0.7" />
<line x1="504.60" y1="579.80" x2="507.80" y2="579.80" stroke="#1c1c1c" stroke-width="0.7" />
<circle cx="515.80" cy="553.40" r="5.40" fill="#111" stroke="none" stroke-width="0"/>
<circle cx="543.40" cy="568.80" r="5.00" fill="#111" stroke="none" stroke-width="0"/>
<circle cx="515.80" cy="584.20" r="5.40" fill="#111" stroke="none" stroke-width="0"/>
<path d="M510.6,554.8 L513.2,562.8 L523.2,555.3 L520.2,549.8 Z" fill="#111" stroke="none" stroke-width="0" />
<path d="M510.6,582.8 L513.2,574.8 L523.2,582.3 L520.2,587.8 Z" fill="#111" stroke="none" stroke-width="0" />
<path d="M537.2,562.8 L545.2,564.1999999999999 L545.2,573.4 L537.2,574.8 Z" fill="#111" stroke="none" stroke-width="0" />
<circle cx="517.27" cy="554.25" r="0.80" fill="#ccc" stroke="none" stroke-width="0"/>
<circle cx="514.33" cy="554.25" r="0.80" fill="#ccc" stroke="none" stroke-width="0"/>
<circle cx="515.80" cy="551.70" r="0.80" fill="#ccc" stroke="none" stroke-width="0"/>
<circle cx="544.87" cy="569.65" r="0.80" fill="#ccc" stroke="none" stroke-width="0"/>
<circle cx="541.93" cy="569.65" r="0.80" fill="#ccc" stroke="none" stroke-width="0"/>
<circle cx="543.40" cy="567.10" r="0.80" fill="#ccc" stroke="none" stroke-width="0"/>
<circle cx="517.27" cy="585.05" r="0.80" fill="#ccc" stroke="none" stroke-width="0"/>
<circle cx="514.33" cy="585.05" r="0.80" fill="#ccc" stroke="none" stroke-width="0"/>
<circle cx="515.80" cy="582.50" r="0.80" fill="#ccc" stroke="none" stroke-width="0"/>
<circle cx="525.20" cy="568.80" r="13.40" fill="#fff" stroke="#111" stroke-width="2.6"/>
<circle cx="525.20" cy="568.80" r="11.10" fill="none" stroke="#222" stroke-width="0.9"/>
<path d="M516.6,564.1999999999999 C515.6,559.1999999999999 522.2,557.8 524.0,561.1999999999999 C524.8000000000001,564.1999999999999 521.2,566.1999999999999 516.6,564.1999999999999 Z" fill="#111" stroke="none" stroke-width="0" />
<circle cx="518.80" cy="562.80" r="0.70" fill="#ddd" stroke="none" stroke-width="0"/>
<circle cx="521.60" cy="561.40" r="0.80" fill="#ddd" stroke="none" stroke-width="0"/>
<path d="M516.6,573.4 C515.6,578.4 522.2,579.8 524.0,576.4 C524.8000000000001,573.4 521.2,571.4 516.6,573.4 Z" fill="#111" stroke="none" stroke-width="0" />
<circle cx="518.80" cy="574.80" r="0.70" fill="#ddd" stroke="none" stroke-width="0"/>
<circle cx="521.60" cy="576.20" r="0.80" fill="#ddd" stroke="none" stroke-width="0"/>
<path d="M527.2,568.8 L519.6,568.8" fill="none" stroke="#111" stroke-width="4.2" />
<path d="M527.2,568.8 L530.2,563.4" fill="none" stroke="#111" stroke-width="4.2" />
<path d="M527.2,568.8 L530.2,574.1999999999999" fill="none" stroke="#111" stroke-width="4.2" />
<path d="M132,575.6 H146 A9,9 0 0 1 155,584.6 V621.6 A10,10 0 0 0 165,631.6 H215.2 A10,10 0 0 0 225.2,621.6 V599" fill="none" stroke="#1c1c1c" stroke-width="6.4" />
<path d="M132,575.6 H146 A9,9 0 0 1 155,584.6 V621.6 A10,10 0 0 0 165,631.6 H215.2 A10,10 0 0 0 225.2,621.6 V599" fill="none" stroke="#fff" stroke-width="4.4" />
<text x="90.4" y="551.2" textLength="27.4" lengthAdjust="spacingAndGlyphs" class="lb">330mm</text>
<polyline points="118.0,548.4 132.8,548.4 149.0,575.0" fill="none" stroke="#1c1c1c" stroke-width="0.9"/>
<path d="M169.4,536 V608.2 A9.9,9.9 0 0 0 179.3,618.1 H189.4 A9.9,9.9 0 0 0 199.3,608.2 V598" fill="none" stroke="#1c1c1c" stroke-width="10.8" />
<path d="M169.4,536 V608.2 A9.9,9.9 0 0 0 179.3,618.1 H189.4 A9.9,9.9 0 0 0 199.3,608.2 V598" fill="none" stroke="#fff" stroke-width="8.8" />
<rect x="164.00" y="534.20" width="10.80" height="5.20" rx="0.6" fill="#fff" stroke="#1c1c1c" stroke-width="1.0"/>
<rect x="164.60" y="536.60" width="9.60" height="2.20" rx="0" fill="#555" stroke="none" stroke-width="0"/>
<path d="M174.8,536.4 H177.6 L180.2,538 L177.6,539.6 H174.8 Z" fill="#fff" stroke="#1c1c1c" stroke-width="0.9" />
<text x="204.0" y="537.2" textLength="28" lengthAdjust="spacingAndGlyphs" class="lb">200mm</text>
<polyline points="203.0,534.2 193.0,534.2 169.4,552.6" fill="none" stroke="#1c1c1c" stroke-width="0.9"/>
<rect x="232.60" y="568.60" width="27.40" height="14.60" rx="1.2" fill="#fff" stroke="#1c1c1c" stroke-width="1.1"/>
<rect x="181.20" y="558.80" width="6.40" height="28.80" rx="0.8" fill="#fff" stroke="#1c1c1c" stroke-width="1.1"/>
<path d="M187.6,566 H232.6 V583.4 H230.8 V600 H218.2 V588 C218.2,585 216.4,583 213.6,583 H187.6 Z" fill="#fff" stroke="#1c1c1c" stroke-width="1.1" />
<line x1="218.20" y1="595.80" x2="230.80" y2="595.80" stroke="#1c1c1c" stroke-width="0.9" />
<rect x="187.60" y="561.40" width="7.20" height="4.60" rx="0.6" fill="#fff" stroke="#1c1c1c" stroke-width="1.0"/>
<rect x="187.60" y="578.60" width="7.60" height="6.20" rx="0.6" fill="#fff" stroke="#1c1c1c" stroke-width="1.0"/>
<rect x="225.40" y="571.40" width="7.20" height="9.00" rx="0.6" fill="#ddd" stroke="#1c1c1c" stroke-width="1.0"/>
<line x1="229.00" y1="571.40" x2="229.00" y2="580.40" stroke="#1c1c1c" stroke-width="0.7" />
<rect x="195.20" y="585.80" width="9.20" height="13.60" rx="1" fill="#555" stroke="#1c1c1c" stroke-width="1.4"/>
<line x1="196.20" y1="590.00" x2="203.40" y2="590.00" stroke="#eee" stroke-width="1.2" />
<line x1="196.20" y1="594.80" x2="203.40" y2="594.80" stroke="#eee" stroke-width="1.4" />
<path d="M204.8,590.4 H208 L210.6,592.2 L208,594 H204.8 Z" fill="#fff" stroke="#1c1c1c" stroke-width="0.9" />
<rect x="121.00" y="570.20" width="8.60" height="11.20" rx="0.5" fill="#fff" stroke="#1c1c1c" stroke-width="1.0"/>
<rect x="128.20" y="570.60" width="4.40" height="10.40" rx="0.4" fill="#888" stroke="#1c1c1c" stroke-width="0.9"/>
<line x1="129.40" y1="570.60" x2="129.40" y2="581.00" stroke="#333" stroke-width="0.5" />
<line x1="130.80" y1="570.60" x2="130.80" y2="581.00" stroke="#333" stroke-width="0.5" />
<g transform="translate(121.60,590.60) rotate(7.94)">
<rect x="0.00" y="-3.60" width="7.40" height="7.20" rx="0.4" fill="#fff" stroke="#1c1c1c" stroke-width="1.0"/>
<rect x="7.40" y="-3.00" width="7.00" height="6.00" rx="0.6" fill="#fff" stroke="#1c1c1c" stroke-width="1.1"/>
<path d="M14.4,-1.5 H26.05 V1.5 H14.4 Z" fill="#666" stroke="#1c1c1c" stroke-width="0.8" />
</g>
<g transform="translate(121.60,646.20) rotate(-8.38)">
<rect x="0.00" y="-3.60" width="7.40" height="7.20" rx="0.4" fill="#fff" stroke="#1c1c1c" stroke-width="1.0"/>
<rect x="7.40" y="-3.00" width="7.00" height="6.00" rx="0.6" fill="#fff" stroke="#1c1c1c" stroke-width="1.1"/>
<path d="M14.4,-1.5 H26.08 V1.5 H14.4 Z" fill="#666" stroke="#1c1c1c" stroke-width="0.8" />
</g>
<rect x="121.60" y="655.00" width="12.40" height="10.00" rx="0.6" fill="#fff" stroke="#1c1c1c" stroke-width="1.4"/>
<rect x="128.60" y="655.60" width="5.20" height="8.80" rx="0.3" fill="#777" stroke="#1c1c1c" stroke-width="0.6"/>
<line x1="129.80" y1="655.60" x2="129.80" y2="664.40" stroke="#1c1c1c" stroke-width="0.5" />
<line x1="131.20" y1="655.60" x2="131.20" y2="664.40" stroke="#1c1c1c" stroke-width="0.5" />
<line x1="132.60" y1="655.60" x2="132.60" y2="664.40" stroke="#1c1c1c" stroke-width="0.5" />
<rect x="134.00" y="657.60" width="66.20" height="4.80" rx="0" fill="#fff" stroke="#1c1c1c" stroke-width="1.0"/>
<text x="112.0" y="683.3" textLength="26.4" lengthAdjust="spacingAndGlyphs" class="lb">130mm</text>
<polyline points="139.0,680.5 154.6,680.5 174.0,659.6" fill="none" stroke="#1c1c1c" stroke-width="0.9"/>
<path d="M71.6,664 V684 A17.5,17.5 0 0 0 89.1,701.5 H200.4" fill="none" stroke="#1c1c1c" stroke-width="5.8" />
<path d="M71.6,664 V684 A17.5,17.5 0 0 0 89.1,701.5 H200.4" fill="none" stroke="#fff" stroke-width="3.8" />
<text x="78.0" y="725.8" textLength="27.4" lengthAdjust="spacingAndGlyphs" class="lb">230mm</text>
<polyline points="106.0,723.0 121.0,723.0 141.0,702.4" fill="none" stroke="#1c1c1c" stroke-width="0.9"/>
<g transform="translate(71.2,560.2) rotate(0)">
<path d="M-12.2,9 L-9.6,-4.0 C-8.799999999999999,-8.200000000000001 -6.1,-9.4 0,-9.4 C6.1,-9.4 8.799999999999999,-8.200000000000001 9.6,-4.0 L12.2,9 Z" fill="#fff" stroke="#1c1c1c" stroke-width="1.7" />
<path d="M-8.799999999999999,9 L-6.799999999999999,-1.8000000000000007 C-6.199999999999999,-5.2 -4.3919999999999995,-6.0 0,-6.0 C4.3919999999999995,-6.0 6.199999999999999,-5.2 6.799999999999999,-1.8000000000000007 L8.799999999999999,9" fill="none" stroke="#1c1c1c" stroke-width="0.9" />
<circle cx="0.00" cy="0.00" r="3.00" fill="#fff" stroke="#1c1c1c" stroke-width="1.1"/>
<line x1="-3.90" y1="0.00" x2="3.90" y2="0.00" stroke="#1c1c1c" stroke-width="1.4" />
<line x1="0.00" y1="-3.90" x2="0.00" y2="3.90" stroke="#1c1c1c" stroke-width="1.4" />
</g>
<g transform="translate(71.8,675.6) rotate(180)">
<path d="M-12.0,9 L-9.4,-5.0 C-8.6,-9.200000000000001 -6.0,-10.4 0,-10.4 C6.0,-10.4 8.6,-9.200000000000001 9.4,-5.0 L12.0,9 Z" fill="#fff" stroke="#1c1c1c" stroke-width="1.7" />
<path d="M-8.6,9 L-6.6,-2.8000000000000007 C-6.0,-6.2 -4.32,-7.0 0,-7.0 C4.32,-7.0 6.0,-6.2 6.6,-2.8000000000000007 L8.6,9" fill="none" stroke="#1c1c1c" stroke-width="0.9" />
<circle cx="0.00" cy="0.00" r="3.00" fill="#fff" stroke="#1c1c1c" stroke-width="1.1"/>
<line x1="-3.90" y1="0.00" x2="3.90" y2="0.00" stroke="#1c1c1c" stroke-width="1.4" />
<line x1="0.00" y1="-3.90" x2="0.00" y2="3.90" stroke="#1c1c1c" stroke-width="1.4" />
</g>
<g transform="translate(13.4,617.4) rotate(-90)">
<path d="M-11.4,9 L-8.8,-4.0 C-8.0,-8.200000000000001 -5.7,-9.4 0,-9.4 C5.7,-9.4 8.0,-8.200000000000001 8.8,-4.0 L11.4,9 Z" fill="#fff" stroke="#1c1c1c" stroke-width="1.7" />
<path d="M-8.0,9 L-6.0,-1.8000000000000007 C-5.4,-5.2 -4.104,-6.0 0,-6.0 C4.104,-6.0 5.4,-5.2 6.0,-1.8000000000000007 L8.0,9" fill="none" stroke="#1c1c1c" stroke-width="0.9" />
<circle cx="0.00" cy="0.00" r="3.00" fill="#fff" stroke="#1c1c1c" stroke-width="1.1"/>
<line x1="-3.90" y1="0.00" x2="3.90" y2="0.00" stroke="#1c1c1c" stroke-width="1.4" />
<line x1="0.00" y1="-3.90" x2="0.00" y2="3.90" stroke="#1c1c1c" stroke-width="1.4" />
</g>
<g transform="translate(129.6,617.4) rotate(90)">
<path d="M-11.6,9 L-9.0,-4.199999999999999 C-8.2,-8.4 -5.8,-9.6 0,-9.6 C5.8,-9.6 8.2,-8.4 9.0,-4.199999999999999 L11.6,9 Z" fill="#fff" stroke="#1c1c1c" stroke-width="1.7" />
<path d="M-8.2,9 L-6.199999999999999,-2.0 C-5.6,-5.3999999999999995 -4.176,-6.199999999999999 0,-6.199999999999999 C4.176,-6.199999999999999 5.6,-5.3999999999999995 6.199999999999999,-2.0 L8.2,9" fill="none" stroke="#1c1c1c" stroke-width="0.9" />
<circle cx="0.00" cy="0.00" r="3.00" fill="#fff" stroke="#1c1c1c" stroke-width="1.1"/>
<line x1="-3.90" y1="0.00" x2="3.90" y2="0.00" stroke="#1c1c1c" stroke-width="1.4" />
<line x1="0.00" y1="-3.90" x2="0.00" y2="3.90" stroke="#1c1c1c" stroke-width="1.4" />
</g>
<path d="M69.2,567.6 H120 V603 A50,50 0 0 1 117.6,633.6 L119,638.6 H122.4 V665.2 H83.2 A49.6,49.6 0 1 1 69.2,567.6 Z" fill="#fff" stroke="#1c1c1c" stroke-width="2.5" />
<path d="M87.2,570.2 A49.8,49.8 0 0 1 120.4,605" fill="none" stroke="#1c1c1c" stroke-width="2.8" />
<path d="M24.4,610 A47.4,47.4 0 0 0 62,664" fill="none" stroke="#1c1c1c" stroke-width="0.9" />
<path d="M24.6,625 A47.4,47.4 0 0 1 64,570.6" fill="none" stroke="#1c1c1c" stroke-width="0.9" />
<line x1="69.40" y1="661.00" x2="69.40" y2="686.00" stroke="#1c1c1c" stroke-width="1.0" />
<line x1="73.80" y1="661.00" x2="73.80" y2="686.00" stroke="#1c1c1c" stroke-width="1.0" />
<line x1="9.00" y1="617.40" x2="122.00" y2="617.40" stroke="#1c1c1c" stroke-width="1.0" stroke-dasharray="7 2 2 2"/>
<line x1="71.20" y1="553.00" x2="71.20" y2="690.00" stroke="#1c1c1c" stroke-width="1.0" stroke-dasharray="7 2 2 2"/>
<circle cx="71.20" cy="617.40" r="26.00" fill="none" stroke="#1c1c1c" stroke-width="2.2"/>
<circle cx="71.20" cy="617.40" r="23.20" fill="none" stroke="#1c1c1c" stroke-width="0.9"/>
<rect x="69.00" y="626.40" width="4.40" height="24.00" rx="0" fill="#efefef" stroke="none" stroke-width="0"/>
<line x1="69.00" y1="626.40" x2="69.00" y2="650.40" stroke="#555" stroke-width="0.7" />
<line x1="73.40" y1="626.40" x2="73.40" y2="650.40" stroke="#555" stroke-width="0.7" />
<circle cx="71.20" cy="617.40" r="10.80" fill="#fff" stroke="#777" stroke-width="1.6"/>
<circle cx="71.20" cy="617.40" r="8.20" fill="#fff" stroke="#151515" stroke-width="2.0"/>
<circle cx="71.20" cy="617.40" r="5.20" fill="#fff" stroke="#1c1c1c" stroke-width="1.3"/>
<circle cx="71.20" cy="617.40" r="2.20" fill="#aaa" stroke="#1c1c1c" stroke-width="1.4"/>
<circle cx="36.40" cy="617.50" r="4.60" fill="#fff" stroke="#222" stroke-width="1.1"/>
<circle cx="89.30" cy="587.80" r="4.70" fill="#fff" stroke="#222" stroke-width="1.1"/>
<circle cx="99.40" cy="642.60" r="4.70" fill="#fff" stroke="#222" stroke-width="1.1"/>
<circle cx="56.40" cy="649.40" r="4.70" fill="#fff" stroke="#222" stroke-width="1.1"/>
<g transform="translate(39.4,599.4) rotate(29)">
<rect x="-6.30" y="-4.50" width="12.60" height="9.00" rx="3.4" fill="#fff" stroke="#111" stroke-width="1.8"/>
<rect x="-4.20" y="-3.00" width="3.40" height="6.00" rx="1.6" fill="#fff" stroke="#1c1c1c" stroke-width="1.1"/>
<rect x="0.80" y="-3.00" width="3.40" height="6.00" rx="1.6" fill="#fff" stroke="#1c1c1c" stroke-width="1.1"/>
</g>
<g transform="translate(103.6,598.8) rotate(-29)">
<rect x="-6.30" y="-4.50" width="12.60" height="9.00" rx="3.4" fill="#fff" stroke="#111" stroke-width="1.8"/>
<rect x="-4.20" y="-3.00" width="3.40" height="6.00" rx="1.6" fill="#fff" stroke="#1c1c1c" stroke-width="1.1"/>
<rect x="0.80" y="-3.00" width="3.40" height="6.00" rx="1.6" fill="#fff" stroke="#1c1c1c" stroke-width="1.1"/>
</g>
<circle cx="77.30" cy="577.80" r="5.20" fill="#fff" stroke="#111" stroke-width="1.7"/>
<path d="M77.3,572.8 A5,5 0 0 0 77.3,582.8 Z" fill="#111" stroke="none" stroke-width="0" />
<path d="M77.8,574.6 C80.8,574.8 80.8,577.4 78.6,577.8 C81,578.4 80.8,581 77.8,581.2" fill="none" stroke="#111" stroke-width="1.2" />
<rect x="66.40" y="649.40" width="9.80" height="11.80" rx="3.4" fill="#222" stroke="#111" stroke-width="1.8"/>
<line x1="67.60" y1="653.00" x2="75.00" y2="653.00" stroke="#eee" stroke-width="1.3" />
<line x1="67.60" y1="657.40" x2="75.00" y2="657.40" stroke="#eee" stroke-width="1.3" />
<rect x="79.60" y="650.80" width="24.00" height="7.80" rx="1.2" fill="#fff" stroke="#111" stroke-width="1.7"/>
<rect x="82.00" y="653.00" width="8.00" height="3.40" rx="0.4" fill="#222" stroke="none" stroke-width="0"/>
<rect x="93.00" y="653.00" width="8.00" height="3.40" rx="0.4" fill="#222" stroke="none" stroke-width="0"/>
<path d="M65.7,574.1999999999999 L66.54,577.56 L69.9,578.4 L66.54,579.24 L65.7,582.6 L64.86,579.24 L61.5,578.4 L64.86,577.56 Z" fill="#111" stroke="#111" stroke-width="0.5" />
<path d="M44.7,584.1999999999999 L45.540000000000006,587.56 L48.900000000000006,588.4 L45.540000000000006,589.24 L44.7,592.6 L43.86,589.24 L40.5,588.4 L43.86,587.56 Z" fill="#111" stroke="#111" stroke-width="0.5" />
<path d="M109.8,604.5999999999999 L110.64,607.9599999999999 L114.0,608.8 L110.64,609.64 L109.8,613.0 L108.96,609.64 L105.6,608.8 L108.96,607.9599999999999 Z" fill="#111" stroke="#111" stroke-width="0.5" />
<path d="M108.1,628.9 L108.94,632.26 L112.3,633.1 L108.94,633.94 L108.1,637.3000000000001 L107.25999999999999,633.94 L103.89999999999999,633.1 L107.25999999999999,632.26 Z" fill="#111" stroke="#111" stroke-width="0.5" />
<path d="M50.6,633.9 L51.440000000000005,637.26 L54.800000000000004,638.1 L51.440000000000005,638.94 L50.6,642.3000000000001 L49.76,638.94 L46.4,638.1 L49.76,637.26 Z" fill="#111" stroke="#111" stroke-width="0.5" />
<ellipse cx="40.5" cy="582" rx="3.3" ry="2.9" fill="#222"/>
<ellipse cx="46.3" cy="656.9" rx="3.6" ry="2.2" fill="#222" transform="rotate(40 46.3 656.9)"/>
<ellipse cx="118.2" cy="611.4" rx="2.4" ry="3.4" fill="#222"/>
<circle cx="92.20" cy="596.00" r="1.40" fill="#111" stroke="none" stroke-width="0"/>
<rect x="109.40" y="650.40" width="12.40" height="14.60" rx="2.4" fill="#161616" stroke="#111" stroke-width="1.2"/>
<path d="M112.4,663 V657.5 C112.4,654.6 114.6,653 117.6,653.6" fill="none" stroke="#ddd" stroke-width="1.1" />
<rect x="114.60" y="658.00" width="3.40" height="4.40" rx="0.4" fill="#eee" stroke="none" stroke-width="0"/>
<rect x="118.80" y="657.60" width="2.60" height="5.00" rx="0.3" fill="#eee" stroke="none" stroke-width="0"/>
<rect x="240.00" y="657.20" width="124.40" height="5.00" rx="0" fill="#fff" stroke="#1c1c1c" stroke-width="1.0"/>
<text x="282.0" y="642.8" textLength="28" lengthAdjust="spacingAndGlyphs" class="lb">330mm</text>
<polyline points="281.0,640.0 269.0,640.0 247.0,659.0" fill="none" stroke="#1c1c1c" stroke-width="0.9"/>
<path d="M240,701.6 H290 A17,17 0 0 1 307,718.6 V761" fill="none" stroke="#1c1c1c" stroke-width="6.2" />
<path d="M240,701.6 H290 A17,17 0 0 1 307,718.6 V761" fill="none" stroke="#fff" stroke-width="4.2" />
<line x1="242.00" y1="702.00" x2="257.00" y2="702.00" stroke="#1c1c1c" stroke-width="2.0" />
<rect x="213.80" y="674.00" width="7.00" height="13.00" rx="0" fill="#fff" stroke="#1c1c1c" stroke-width="1.0"/>
<path d="M221.2,672.8 H226 C230,672.8 232,674.6 234,676 H238.4 V687.4 H234 C232,688.8 230,690.6 226,690.6 H221.2 Z" fill="#fff" stroke="#1c1c1c" stroke-width="1.0" />
<rect x="211.60" y="666.60" width="13.40" height="8.80" rx="0.6" fill="#fff" stroke="#1c1c1c" stroke-width="1.1"/>
<path d="M225,667.4 H229.4 V673 L226.6,675.4 H225 Z" fill="#fff" stroke="#1c1c1c" stroke-width="1.0" />
<rect x="211.60" y="685.60" width="13.40" height="8.80" rx="0.6" fill="#fff" stroke="#1c1c1c" stroke-width="1.1"/>
<path d="M225,693.6 H229.4 V688 L226.6,685.6 H225 Z" fill="#fff" stroke="#1c1c1c" stroke-width="1.0" />
<rect x="200.20" y="653.80" width="12.40" height="11.60" rx="2" fill="#fff" stroke="#1c1c1c" stroke-width="1.1"/>
<rect x="200.80" y="654.60" width="3.20" height="10.00" rx="1" fill="#777" stroke="none" stroke-width="0"/>
<line x1="204.20" y1="653.80" x2="204.20" y2="665.40" stroke="#1c1c1c" stroke-width="0.8" />
<rect x="227.80" y="653.80" width="12.20" height="11.60" rx="2" fill="#fff" stroke="#1c1c1c" stroke-width="1.1"/>
<rect x="236.20" y="654.60" width="3.20" height="10.00" rx="1" fill="#777" stroke="none" stroke-width="0"/>
<line x1="236.00" y1="653.80" x2="236.00" y2="665.40" stroke="#1c1c1c" stroke-width="0.8" />
<rect x="212.60" y="653.20" width="15.20" height="12.80" rx="0.6" fill="#fff" stroke="#1c1c1c" stroke-width="1.1"/>
<rect x="200.20" y="696.80" width="12.40" height="11.60" rx="2" fill="#fff" stroke="#1c1c1c" stroke-width="1.1"/>
<rect x="200.80" y="697.60" width="3.20" height="10.00" rx="1" fill="#777" stroke="none" stroke-width="0"/>
<line x1="204.20" y1="696.80" x2="204.20" y2="708.40" stroke="#1c1c1c" stroke-width="0.8" />
<rect x="227.80" y="696.80" width="12.20" height="11.60" rx="2" fill="#fff" stroke="#1c1c1c" stroke-width="1.1"/>
<rect x="236.20" y="697.60" width="3.20" height="10.00" rx="1" fill="#777" stroke="none" stroke-width="0"/>
<line x1="236.00" y1="696.80" x2="236.00" y2="708.40" stroke="#1c1c1c" stroke-width="0.8" />
<rect x="212.60" y="696.20" width="15.20" height="12.80" rx="0.6" fill="#fff" stroke="#1c1c1c" stroke-width="1.1"/>
<rect x="234.80" y="673.60" width="3.60" height="14.20" rx="0.5" fill="#ddd" stroke="#1c1c1c" stroke-width="1.1"/>
<rect x="238.00" y="670.00" width="30.40" height="21.40" rx="1.2" fill="#fff" stroke="#1c1c1c" stroke-width="1.7"/>
<line x1="238.50" y1="671.60" x2="267.90" y2="671.60" stroke="#1c1c1c" stroke-width="0.7" />
<line x1="238.50" y1="689.80" x2="267.90" y2="689.80" stroke="#1c1c1c" stroke-width="0.7" />
<line x1="244.40" y1="677.40" x2="244.40" y2="683.40" stroke="#1c1c1c" stroke-width="1.4" />
<line x1="255.00" y1="675.20" x2="262.00" y2="675.20" stroke="#1c1c1c" stroke-width="1.3" />
<line x1="255.00" y1="687.00" x2="262.00" y2="687.00" stroke="#1c1c1c" stroke-width="1.3" />
<rect x="268.40" y="673.00" width="3.80" height="16.00" rx="0.6" fill="#444" stroke="#1c1c1c" stroke-width="1.2"/>
<path d="M275.10,672.00 L275.60,668.80 H277.60 L278.10,672.00 Z" fill="#555" stroke="#1c1c1c" stroke-width="0.8" />
<rect x="274.50" y="672.00" width="4.20" height="3.40" rx="0.4" fill="#fff" stroke="#1c1c1c" stroke-width="0.9"/>
<rect x="272.20" y="675.40" width="9.80" height="10.40" rx="1.4" fill="#fff" stroke="#1c1c1c" stroke-width="1.1"/>
<rect x="272.80" y="675.90" width="4.59" height="9.40" rx="1.0" fill="#3a3a3a" stroke="none" stroke-width="0"/>
<line x1="273.85" y1="676.40" x2="273.85" y2="684.80" stroke="#999" stroke-width="0.6" />
<line x1="275.60" y1="676.40" x2="275.60" y2="684.80" stroke="#999" stroke-width="0.6" />
<rect x="282.00" y="676.40" width="78.00" height="9.60" rx="0" fill="#fff" stroke="#1c1c1c" stroke-width="1.0"/>
<rect x="353.00" y="677.00" width="3.20" height="8.40" rx="0" fill="#666" stroke="none" stroke-width="0"/>
<line x1="352.60" y1="676.40" x2="352.60" y2="686.00" stroke="#1c1c1c" stroke-width="0.8" />
<path d="M353.10,672.80 L353.60,669.60 H355.60 L356.10,672.80 Z" fill="#555" stroke="#1c1c1c" stroke-width="0.8" />
<rect x="352.50" y="672.80" width="4.20" height="3.40" rx="0.4" fill="#fff" stroke="#1c1c1c" stroke-width="0.9"/>
<text x="354.3" y="727.2" textLength="28" lengthAdjust="spacingAndGlyphs" class="lb">220mm</text>
<polyline points="353.4,724.6 349.0,724.6 318.0,683.0" fill="none" stroke="#1c1c1c" stroke-width="0.9"/>
<text x="207.0" y="732.8" textLength="26" lengthAdjust="spacingAndGlyphs" class="lb">220mm</text>
<polyline points="264.0,730.6 280.0,730.6 299.6,710.0" fill="none" stroke="#1c1c1c" stroke-width="0.9"/>
<rect x="236.40" y="727.40" width="5.80" height="6.00" rx="0.8" fill="#222" stroke="none" stroke-width="0"/>
<rect x="237.60" y="728.80" width="1.20" height="1.20" rx="0" fill="#fff" stroke="none" stroke-width="0"/>
<rect x="239.60" y="730.80" width="1.20" height="1.20" rx="0" fill="#fff" stroke="none" stroke-width="0"/>
<rect x="243.20" y="727.40" width="5.80" height="6.00" rx="0.8" fill="#222" stroke="none" stroke-width="0"/>
<rect x="244.40" y="728.80" width="1.20" height="1.20" rx="0" fill="#fff" stroke="none" stroke-width="0"/>
<rect x="246.40" y="730.80" width="1.20" height="1.20" rx="0" fill="#fff" stroke="none" stroke-width="0"/>
<rect x="250.00" y="727.40" width="5.80" height="6.00" rx="0.8" fill="#222" stroke="none" stroke-width="0"/>
<rect x="251.20" y="728.80" width="1.20" height="1.20" rx="0" fill="#fff" stroke="none" stroke-width="0"/>
<rect x="253.20" y="730.80" width="1.20" height="1.20" rx="0" fill="#fff" stroke="none" stroke-width="0"/>
<rect x="256.80" y="727.40" width="5.80" height="6.00" rx="0.8" fill="#222" stroke="none" stroke-width="0"/>
<rect x="258.00" y="728.80" width="1.20" height="1.20" rx="0" fill="#fff" stroke="none" stroke-width="0"/>
<rect x="260.00" y="730.80" width="1.20" height="1.20" rx="0" fill="#fff" stroke="none" stroke-width="0"/>
<rect x="375.00" y="653.00" width="9.20" height="7.20" rx="0" fill="#fff" stroke="#1c1c1c" stroke-width="1.0"/>
<path d="M370.2,668.6 H389 L388.6,674.4 H370.6 Z" fill="#fff" stroke="#1c1c1c" stroke-width="1.0" />
<rect x="364.60" y="650.60" width="10.60" height="14.40" rx="1.4" fill="#fff" stroke="#1c1c1c" stroke-width="1.1"/>
<line x1="367.00" y1="650.60" x2="367.00" y2="665.00" stroke="#1c1c1c" stroke-width="0.8" />
<path d="M365.6,665 L366.6,668.4 H371 L372,665" fill="#fff" stroke="#1c1c1c" stroke-width="1.0" />
<rect x="384.00" y="650.00" width="8.40" height="15.20" rx="1" fill="#fff" stroke="#1c1c1c" stroke-width="1.1"/>
<line x1="390.20" y1="650.00" x2="390.20" y2="665.20" stroke="#1c1c1c" stroke-width="0.8" />
<path d="M384.6,665.2 L386,669 H391 L392,665.2" fill="#fff" stroke="#1c1c1c" stroke-width="1.0" />
<rect x="370.60" y="674.20" width="18.00" height="4.00" rx="0.4" fill="#fff" stroke="#1c1c1c" stroke-width="1.1"/>
<line x1="375.00" y1="674.20" x2="375.00" y2="678.20" stroke="#1c1c1c" stroke-width="0.8" />
<line x1="384.40" y1="674.20" x2="384.40" y2="678.20" stroke="#1c1c1c" stroke-width="0.8" />
<rect x="392.80" y="648.60" width="42.60" height="22.40" rx="2" fill="#fff" stroke="#1c1c1c" stroke-width="1.2"/>
<line x1="393.20" y1="649.60" x2="393.20" y2="670.00" stroke="#1c1c1c" stroke-width="1.4" />
<line x1="413.60" y1="648.60" x2="413.60" y2="671.00" stroke="#1c1c1c" stroke-width="0.9" />
<line x1="392.80" y1="659.60" x2="435.40" y2="659.60" stroke="#1c1c1c" stroke-width="0.9" />
<path d="M435.6,651 L439,655.2 V664 L435.6,668.2" fill="#fff" stroke="#1c1c1c" stroke-width="1.0" />
<rect x="439.00" y="655.20" width="8.80" height="8.80" rx="0" fill="#fff" stroke="#1c1c1c" stroke-width="1.0"/>
<rect x="447.80" y="654.20" width="61.60" height="10.80" rx="0" fill="#fff" stroke="#1c1c1c" stroke-width="1.0"/>
<path d="M509.4,654.2 C514,654.2 518,651 522.6,647.6 H539.4 A2,2 0 0 1 541.4,649.6 V669.6 A2,2 0 0 1 539.4,671.6 H522.6 C518,668.2 514,665 509.4,665 Z" fill="#fff" stroke="#1c1c1c" stroke-width="1.1" />
<line x1="509.60" y1="654.20" x2="509.60" y2="665.00" stroke="#1c1c1c" stroke-width="0.9" />
<line x1="526.00" y1="647.60" x2="526.00" y2="671.60" stroke="#1c1c1c" stroke-width="0.9" />
<rect x="368.60" y="678.00" width="22.40" height="30.00" rx="1.2" fill="#fff" stroke="#1c1c1c" stroke-width="1.7"/>
<line x1="370.20" y1="678.40" x2="370.20" y2="707.60" stroke="#1c1c1c" stroke-width="0.7" />
<line x1="389.40" y1="678.40" x2="389.40" y2="707.60" stroke="#1c1c1c" stroke-width="0.7" />
<line x1="376.00" y1="684.00" x2="383.00" y2="684.00" stroke="#1c1c1c" stroke-width="1.4" />
<line x1="374.20" y1="695.50" x2="374.20" y2="701.50" stroke="#1c1c1c" stroke-width="1.4" />
<line x1="385.20" y1="695.50" x2="385.20" y2="701.50" stroke="#1c1c1c" stroke-width="1.4" />
<rect x="372.00" y="708.00" width="15.00" height="3.80" rx="0.8" fill="#fff" stroke="#1c1c1c" stroke-width="1.1"/>
<line x1="379.60" y1="708.00" x2="379.60" y2="711.80" stroke="#1c1c1c" stroke-width="0.8" />
<circle cx="308.00" cy="780.00" r="28.50" fill="none" stroke="#1c1c1c" stroke-width="1.1"/>
<circle cx="308.00" cy="780.00" r="25.60" fill="none" stroke="#1c1c1c" stroke-width="1.1"/>
<line x1="279.60" y1="779.00" x2="282.40" y2="779.00" stroke="#1c1c1c" stroke-width="1.0" />
<rect x="302.20" y="760.40" width="11.80" height="6.00" rx="0.6" fill="#fff" stroke="#1c1c1c" stroke-width="1.0"/>
<line x1="302.20" y1="762.40" x2="314.00" y2="762.40" stroke="#1c1c1c" stroke-width="1.2" />
<rect x="303.40" y="766.40" width="9.40" height="6.80" rx="0" fill="#fff" stroke="#1c1c1c" stroke-width="1.0"/>
<rect x="300.40" y="773.00" width="15.60" height="15.20" rx="0.8" fill="#fff" stroke="#1c1c1c" stroke-width="1.0"/>
</svg>
<div id="tx">
<div class="t r" style="left:551.5px;top:344.5px">1. Three boilers.</div>
<div class="t" style="left:550.5px;top:383.9px">Independent integrated brewing boiler, 1500W</div>
<div class="t" style="left:550.5px;top:423px">Two independent steam boilers, 1000W.</div>
<div class="t" style="left:556px;top:479.4px"><span class="r">2. Two imported ULKA pumps</span> with automatic</div>
<div class="t" style="left:556px;top:517.8px">pressure relief protection.</div>
<div class="t r" style="left:575px;top:579.4px">3. Two-position three-way electromagnetic</div>
<div class="t" style="left:575px;top:618.7px"><span class="r">valve controls the water circuit</span>, and the system</div>
<div class="t" style="left:575px;top:658.4px">sealing pressure is greater than 30bar.</div>
<div class="t r" style="left:575px;top:707.4px">4. Saturated brewing head</div>

</div>
</body></html>
